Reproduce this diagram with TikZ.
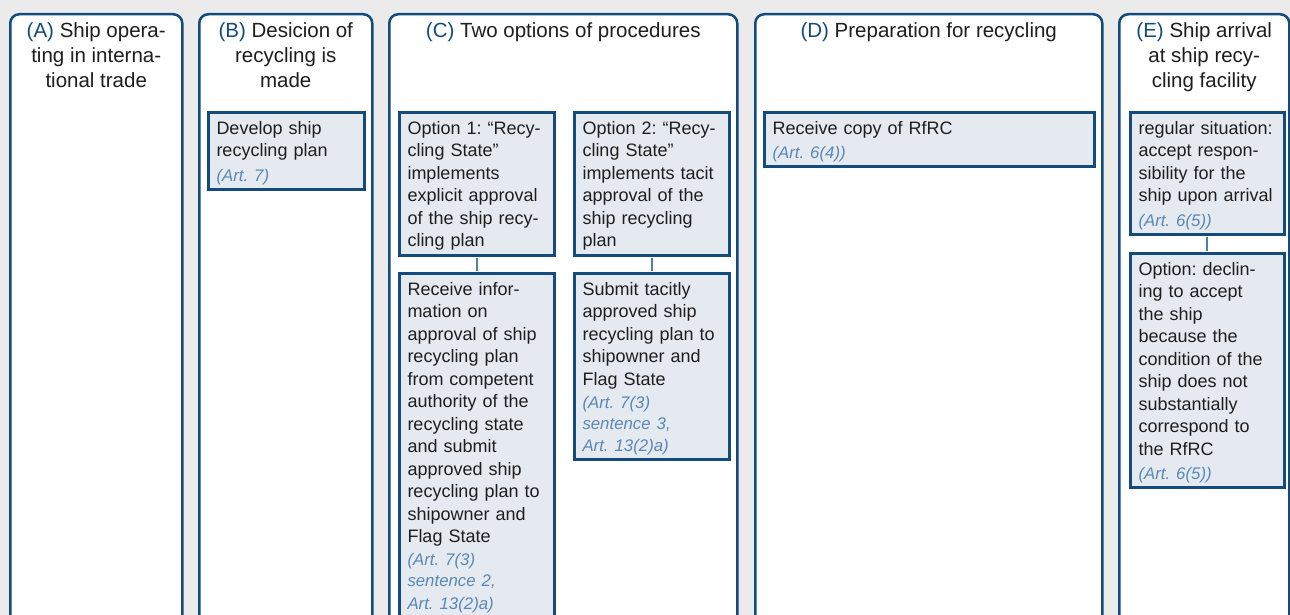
\documentclass[tikz,border=0pt]{standalone}
\usepackage{fontspec}
\setmainfont{Liberation Sans}
\usepackage{xcolor}
\usepackage{tikz}
\usetikzlibrary{calc}
\usetikzlibrary{positioning}
\definecolor{laneblue}{HTML}{134B7C}
\definecolor{boxfill}{HTML}{E5EAF1}
\definecolor{artblue}{HTML}{5B88B3}
\definecolor{linkblue}{HTML}{4F7EAB}
\definecolor{backdrop}{HTML}{EBEBEB}
\definecolor{textgray}{HTML}{1E1E1E}
\frenchspacing
\tikzset{>=latex}
\tikzstyle{lane} = [draw = laneblue, line width = 2.5, fill = white, rounded corners = 9, inner sep = 0, anchor = north west, minimum height = 660]
\tikzstyle{heading} = [inner sep = 0, align = center, text = textgray, font = \fontsize{20.5}{25}\selectfont]
\tikzstyle{clause} = [draw = laneblue, line width = 3, fill = boxfill, align = left, inner xsep = 8.5, inner ysep = 4.5, anchor = north west, text = textgray, font = \fontsize{18}{22.5}\selectfont, execute at begin node = {\rule{0pt}{17pt}}]
\tikzstyle{link} = [-, draw = linkblue, line width = 2, shorten < = 1.5, shorten > = 1.5]
\newcommand{\laneid}[1]{\textcolor{laneblue}{#1}}
\newcommand{\art}{\par\vspace{2pt}\fontsize{16.8}{21}\selectfont\itshape\leavevmode\color{artblue}}

\begin{document}
\begin{tikzpicture}[x = 1pt, y = -1pt]
\useasboundingbox (0, 0) rectangle (1290, 615);
\clip (0, 0) rectangle (1290, 615);
\fill [backdrop] (0, 0) rectangle (1290, 615);

\node [lane, minimum width = 172] (A) at (9, 13) {};
\node [lane, minimum width = 173] (B) at (198, 13) {};
\node [lane, minimum width = 348] (C) at (388, 13) {};
\node [lane, minimum width = 347] (D) at (754, 13) {};
\node [lane, minimum width = 170] (E) at (1118, 13) {};

\node [heading, below = 9pt of A.north] (A title) {\laneid{(A)} Ship opera-\\ting in interna-\\tional trade};
\node [heading, below = 9pt of B.north] (B title) {\laneid{(B)} Desicion of\\recycling is\\made};
\node [heading, below = 9pt of C.north] (C title) {\laneid{(C)} Two options of procedures};
\node [heading, below = 9pt of D.north] (D title) {\laneid{(D)} Preparation for recycling};
\node [heading, below = 9pt of E.north] (E title) {\laneid{(E)} Ship arrival\\at ship recy-\\cling facility};

\node [clause, text width = 139] (B1) at (206.5, 111.5) {Develop ship\\recycling plan\art (Art. 7)};

\node [clause, text width = 138] (C1) at (397.5, 111.5) {Option 1: “Recy-\\cling State”\\implements\\explicit approval\\of the ship recy-\\cling plan};
\node [clause, text width = 138] (C2) at (572.5, 111.5) {Option 2: “Recy-\\cling State”\\implements tacit\\approval of the\\ship recycling\\plan};
\node [clause, text width = 138, text depth = 340] (C3) at (397.5, 272) {Receive infor-\\mation on\\approval of ship\\recycling plan\\from competent\\authority of the\\recycling state\\and submit\\approved ship\\recycling plan to\\shipowner and\\Flag State\art (Art. 7(3)\\sentence 2,\\Art. 13(2)a)};
\node [clause, text width = 138] (C4) at (572.5, 272) {Submit tacitly\\approved ship\\recycling plan to\\shipowner and\\Flag State\art (Art. 7(3)\\sentence 3,\\Art. 13(2)a)};

\node [clause, text width = 313] (D1) at (762.5, 111.5) {Receive copy of RfRC\art (Art. 6(4))};

\node [clause, text width = 137] (E1) at (1128.5, 111.5) {regular situation:\\accept respon-\\sibility for the\\ship upon arrival\art (Art. 6(5))};
\node [clause, text width = 137] (E2) at (1128.5, 252) {Option: declin-\\ing to accept\\the ship\\because the\\condition of the\\ship does not\\substantially\\correspond to\\the RfRC\art (Art. 6(5))};

\draw [link] (C1.south) -- (C3.north);
\draw [link] (C2.south) -- (C4.north);
\draw [link] (E1.south) -- (E2.north);
\end{tikzpicture}
\end{document}
